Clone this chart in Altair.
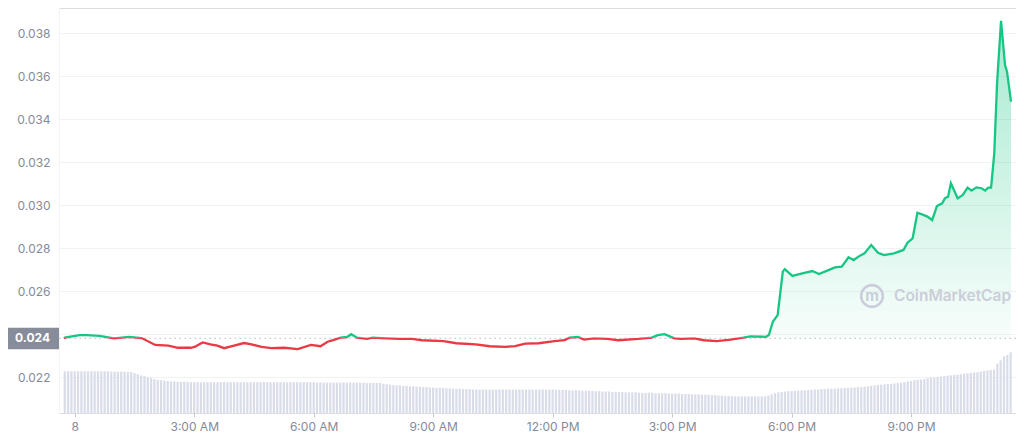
import altair as alt
import pandas as pd

# ---------------- data ----------------
price_hours = [
    -0.27, -0.25, 0.12, 0.30, 0.62, 0.99, 1.36, 1.68, 2.02, 2.35, 2.59, 2.91,
    3.01, 3.21, 3.41, 3.58, 3.75, 4.00, 4.25, 4.44, 4.69, 4.94, 5.26, 5.60,
    5.93, 6.17, 6.35, 6.49, 6.67, 6.84, 6.94, 7.09, 7.33, 7.48, 7.83, 8.15,
    8.47, 8.72, 9.26, 9.58, 10.07, 10.42, 10.81, 11.06, 11.31, 11.65, 12.05,
    12.30, 12.42, 12.64, 12.79, 13.04, 13.38, 13.65, 14.15, 14.49, 14.64,
    14.81, 15.06, 15.23, 15.56, 15.80, 16.12, 16.47, 16.79, 16.96, 17.36,
    17.43, 17.53, 17.65, 17.78, 17.83, 18.02, 18.27, 18.52, 18.69, 18.94,
    19.09, 19.26, 19.43, 19.56, 19.68, 19.83, 20.00, 20.17, 20.32, 20.57,
    20.81, 20.91, 21.04, 21.16, 21.31, 21.41, 21.53, 21.65, 21.78, 21.85,
    21.93, 22.00, 22.17, 22.30, 22.42, 22.52, 22.64, 22.77, 22.86, 22.94,
    23.01, 23.09, 23.16, 23.26, 23.36, 23.41, 23.51,
]
price_values = [
    0.02380, 0.02383, 0.02395, 0.02395, 0.02391, 0.02380, 0.02387, 0.02381,
    0.02349, 0.02346, 0.02336, 0.02336, 0.02340, 0.02361, 0.02352, 0.02346,
    0.02334, 0.02346, 0.02358, 0.02352, 0.02340, 0.02334, 0.02336, 0.02330,
    0.02349, 0.02343, 0.02364, 0.02372, 0.02383, 0.02386, 0.02399, 0.02383,
    0.02377, 0.02383, 0.02380, 0.02377, 0.02377, 0.02371, 0.02367, 0.02357,
    0.02352, 0.02343, 0.02340, 0.02344, 0.02355, 0.02357, 0.02367, 0.02371,
    0.02383, 0.02386, 0.02374, 0.02380, 0.02377, 0.02371, 0.02377, 0.02383,
    0.02395, 0.02399, 0.02380, 0.02377, 0.02380, 0.02371, 0.02367, 0.02374,
    0.02383, 0.02389, 0.02387, 0.02395, 0.02457, 0.02488, 0.02690, 0.02702,
    0.02670, 0.02682, 0.02693, 0.02679, 0.02698, 0.02710, 0.02713, 0.02757,
    0.02744, 0.02760, 0.02775, 0.02814, 0.02778, 0.02767, 0.02775, 0.02791,
    0.02825, 0.02845, 0.02964, 0.02954, 0.02946, 0.02930, 0.02995, 0.03008,
    0.03031, 0.03039, 0.03101, 0.03031, 0.03047, 0.03081, 0.03067, 0.03082,
    0.03078, 0.03067, 0.03081, 0.03081, 0.03241, 0.03567, 0.03857, 0.03651,
    0.03620, 0.03481,
]
# volume bars, one per 5 minutes starting at 23:45 of the previous day
volume_values = [
    10.3, 10.3, 10.3, 10.3, 10.3, 10.3, 10.3, 10.3, 10.3, 10.3, 10.3, 10.3,
    10.3, 10.3, 10.2, 10.2, 10.2, 10.2, 10.2, 10.1, 10.1, 9.9, 9.6, 9.3,
    9.1, 8.8, 8.6, 8.4, 8.2, 8.1, 8.0, 7.9, 7.8, 7.8, 7.7, 7.7,
    7.7, 7.7, 7.6, 7.6, 7.6, 7.6, 7.6, 7.6, 7.6, 7.6, 7.6, 7.6,
    7.6, 7.6, 7.6, 7.6, 7.6, 7.6, 7.6, 7.6, 7.6, 7.6, 7.6, 7.6,
    7.6, 7.6, 7.6, 7.6, 7.6, 7.6, 7.6, 7.6, 7.6, 7.6, 7.6, 7.6,
    7.6, 7.6, 7.6, 7.6, 7.5, 7.5, 7.5, 7.5, 7.5, 7.5, 7.5, 7.5,
    7.5, 7.5, 7.5, 7.5, 7.5, 7.5, 7.5, 7.4, 7.4, 7.4, 7.4, 7.4,
    7.2, 7.1, 7.0, 6.9, 6.8, 6.8, 6.7, 6.7, 6.6, 6.6, 6.5, 6.5,
    6.4, 6.4, 6.3, 6.3, 6.2, 6.2, 6.2, 6.1, 6.1, 6.0, 6.0, 6.0,
    5.9, 5.9, 5.9, 5.8, 5.8, 5.8, 5.8, 5.8, 5.8, 5.8, 5.8, 5.8,
    5.8, 5.8, 5.8, 5.8, 5.8, 5.8, 5.8, 5.8, 5.8, 5.8, 5.8, 5.8,
    5.8, 5.8, 5.8, 5.8, 5.7, 5.7, 5.7, 5.7, 5.6, 5.6, 5.6, 5.6,
    5.5, 5.5, 5.5, 5.4, 5.4, 5.4, 5.3, 5.3, 5.3, 5.2, 5.2, 5.2,
    5.2, 5.1, 5.1, 5.1, 5.1, 5.0, 5.0, 5.0, 5.0, 5.0, 4.9, 4.9,
    4.9, 4.9, 4.8, 4.8, 4.8, 4.8, 4.7, 4.7, 4.7, 4.6, 4.6, 4.6,
    4.5, 4.5, 4.5, 4.4, 4.4, 4.3, 4.3, 4.2, 4.2, 4.1, 4.1, 4.1,
    4.1, 4.1, 4.1, 4.1, 4.1, 4.1, 4.1, 4.1, 4.3, 4.6, 4.9, 5.1,
    5.2, 5.3, 5.4, 5.4, 5.5, 5.5, 5.6, 5.6, 5.7, 5.7, 5.8, 5.8,
    5.9, 5.9, 6.0, 6.0, 6.0, 6.1, 6.1, 6.2, 6.2, 6.3, 6.3, 6.4,
    6.4, 6.5, 6.6, 6.7, 6.8, 6.9, 7.0, 7.1, 7.2, 7.2, 7.3, 7.4,
    7.5, 7.6, 7.8, 7.9, 8.1, 8.2, 8.3, 8.4, 8.6, 8.7, 8.8, 8.9,
    9.0, 9.1, 9.2, 9.3, 9.4, 9.5, 9.6, 9.7, 9.8, 9.9, 10.0, 10.1,
    10.2, 10.4, 10.5, 10.6, 10.7, 12.2, 13.0, 14.0, 14.3, 15.0,
]
tick_hours = [0, 3, 6, 9, 12, 15, 18, 21]
tick_labels = ["8", "3:00 AM", "6:00 AM", "9:00 AM", "12:00 PM", "3:00 PM", "6:00 PM", "9:00 PM"]
y_ticks = [0.022, 0.024, 0.026, 0.028, 0.030, 0.032, 0.034, 0.036, 0.038]

# ---------------- styling ----------------
GREEN = "#16c784"
RED = "#ea3943"
LABEL_COLOR = "#858a98"
MARK_COLOR = "#cbced8"
FONT = "Inter"

base = price_values[0]
pmax, pmin = max(price_values), min(price_values)
split = (pmax - base) / (pmax - pmin)

price_df = pd.DataFrame({"h": price_hours, "price": price_values, "base": base})
vol_df = pd.DataFrame({
    "h": [-0.25 + i / 12 for i in range(len(volume_values))],
    "vol": volume_values,
})
base_df = pd.DataFrame({"v": [base], "label": [f"{base:.3f}"]})
mark_df = pd.DataFrame({"name": ["CoinMarketCap"]})

x_scale = alt.Scale(domain=[-0.27, 23.51], nice=False, zero=False)
y_scale = alt.Scale(domain=[0.020326, 0.039163], nice=False, zero=False)

label_js = "[" + ",".join(f"'{s}'" for s in tick_labels) + "][round(datum.value / 3)]"
x_axis = alt.Axis(
    values=tick_hours, labelExpr=label_js, grid=False, domain=False,
    ticks=True, tickSize=4, tickColor="#c5c8d0", labelColor=LABEL_COLOR,
    labelFont=FONT, labelFontSize=12, labelPadding=4, title=None,
)
# the reference value (0.024) is shown in the highlighted box instead
y_axis = alt.Axis(
    values=y_ticks,
    labelExpr=f"abs(datum.value - {base:.3f}) < 0.0001 ? '' : format(datum.value, '.3f')",
    grid=True, gridColor="#f1f2f5",
    domain=True, domainColor="#f4f4f6", ticks=False, tickSize=0,
    labelPadding=9, labelColor=LABEL_COLOR, labelFont=FONT,
    labelFontSize=12, title=None,
)

X = alt.X("h:Q", scale=x_scale, axis=x_axis)

bars = alt.Chart(vol_df).mark_bar(color="#d9dce9", width=2.2).encode(
    x=X,
    y=alt.Y("vol:Q", scale=alt.Scale(domain=[0, 100], nice=False), axis=None),
)

area_fill = alt.LinearGradient(
    gradient="linear", x1=0, y1=0, x2=0, y2=1,
    stops=[
        alt.GradientStop(color="rgba(22,199,132,0.38)", offset=0),
        alt.GradientStop(color="rgba(22,199,132,0.03)", offset=split),
        alt.GradientStop(color="rgba(255,255,255,0)", offset=split),
        alt.GradientStop(color="rgba(255,255,255,0)", offset=1),
    ],
)
line_stroke = alt.LinearGradient(
    gradient="linear", x1=0, y1=0, x2=0, y2=1,
    stops=[
        alt.GradientStop(color=GREEN, offset=0),
        alt.GradientStop(color=GREEN, offset=split),
        alt.GradientStop(color=RED, offset=split),
        alt.GradientStop(color=RED, offset=1),
    ],
)

area = alt.Chart(price_df).mark_area(fill=area_fill).encode(
    x=X,
    y=alt.Y("price:Q", scale=y_scale, axis=y_axis),
    y2="base:Q",
)

watermark_text = alt.Chart(mark_df).mark_text(
    align="left", baseline="middle", fontSize=15.5, fontWeight=600,
    font=FONT, color=MARK_COLOR,
).encode(x=alt.value(835), y=alt.value(288), text="name:N")
watermark_ring = alt.Chart(mark_df).mark_point(
    shape="circle", size=470, filled=False, strokeWidth=2.6, color=MARK_COLOR, opacity=1,
).encode(x=alt.value(813), y=alt.value(288))
watermark_m = alt.Chart(pd.DataFrame({"t": ["m"]})).mark_text(
    align="center", baseline="middle", fontSize=15, fontWeight="bold",
    font=FONT, color=MARK_COLOR,
).encode(x=alt.value(813), y=alt.value(288), text="t:N")

rule = alt.Chart(base_df).mark_rule(
    strokeDash=[1.5, 3.5], color="#b7bbc6", strokeWidth=1,
).encode(y=alt.Y("v:Q", scale=y_scale))

line = alt.Chart(price_df).mark_line(stroke=line_stroke, strokeWidth=2.3).encode(
    x=X,
    y=alt.Y("price:Q", scale=y_scale),
)

box = alt.Chart(base_df).mark_rect(color="#878c9b", yOffset=-10.5, y2Offset=11).encode(
    x=alt.value(-51), x2=alt.value(0),
    y=alt.Y("v:Q", scale=y_scale), y2="v:Q",
)
box_text = alt.Chart(base_df).mark_text(
    align="right", baseline="middle", color="white", fontSize=12,
    fontWeight="bold", font=FONT,
).encode(x=alt.value(-9), y=alt.Y("v:Q", scale=y_scale), text="label:N")

price_layer = alt.layer(area, watermark_text, watermark_ring, watermark_m, rule, line, box, box_text)

chart = alt.layer(bars, price_layer).resolve_scale(y="independent").properties(
    width=957, height=405,
    padding={"left": 51, "top": 0, "right": 0, "bottom": 20},
    autosize=alt.AutoSizeParams(type="none"),
).configure_view(strokeWidth=0, stroke="transparent").configure(background="white")

chart.save("out.html", embed_options={"renderer": "svg", "actions": False})
